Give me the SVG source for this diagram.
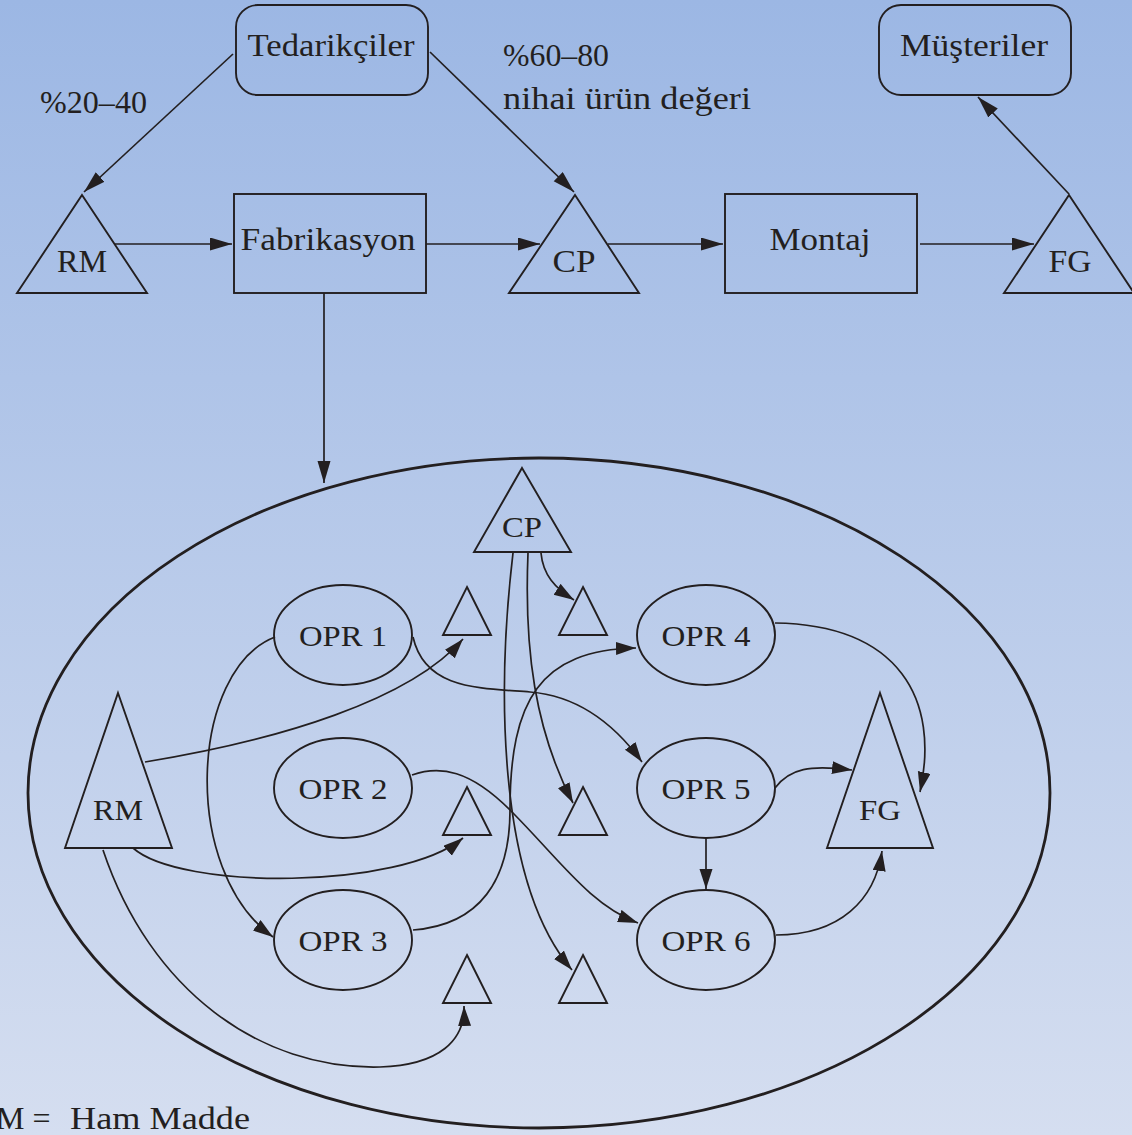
<svg xmlns="http://www.w3.org/2000/svg" width="1132" height="1135" viewBox="0 0 1132 1135">
  <defs>
    <linearGradient id="bg" x1="0" y1="0" x2="0" y2="1">
      <stop offset="0" stop-color="#9cb7e4"/>
      <stop offset="1" stop-color="#d5def0"/>
    </linearGradient>
    <marker id="arr" markerUnits="userSpaceOnUse" markerWidth="24" markerHeight="14" refX="22" refY="6.5" orient="auto">
      <path d="M0,0 L22,6.5 L0,13 Z" fill="#231f20"/>
    </marker>
    <marker id="arrS" markerUnits="userSpaceOnUse" markerWidth="22" markerHeight="14" refX="20" refY="6.5" orient="auto">
      <path d="M0,0 L20,6.5 L0,13 Z" fill="#231f20"/>
    </marker>
  </defs>
  <style>
    .shape { fill: none; stroke: #231f20; stroke-width: 1.9; }
    .line { fill: none; stroke: #231f20; stroke-width: 1.7; }
    .big { fill: none; stroke: #231f20; stroke-width: 2.8; }
    .t { font-family: "Liberation Serif", "DejaVu Serif", serif; font-size: 32px; fill: #231f20; text-anchor: middle; }
    .ts { font-family: "Liberation Serif", "DejaVu Serif", serif; font-size: 30px; fill: #231f20; text-anchor: middle; }
    .tl { font-family: "Liberation Serif", "DejaVu Serif", serif; font-size: 32px; fill: #231f20; }
  </style>

  <rect x="0" y="0" width="1132" height="1135" fill="url(#bg)"/>

  <!-- top-level flow -->
  <g id="tedarikciler">
    <rect class="shape" x="236" y="5" width="192" height="90" rx="22"/>
    <text class="t" x="331" y="56" textLength="167" lengthAdjust="spacingAndGlyphs">Tedarikçiler</text>
  </g>
  <g id="musteriler">
    <rect class="shape" x="879" y="5" width="192" height="90" rx="22"/>
    <text class="t" x="974" y="56" textLength="148" lengthAdjust="spacingAndGlyphs">Müşteriler</text>
  </g>
  <g id="rm-top">
    <polygon class="shape" points="82,195 147,293 17,293"/>
    <text class="t" x="82" y="272" textLength="50" lengthAdjust="spacingAndGlyphs">RM</text>
  </g>
  <g id="fabrikasyon">
    <rect class="shape" x="234" y="194" width="192" height="99"/>
    <text class="t" x="328" y="250" textLength="175" lengthAdjust="spacingAndGlyphs">Fabrikasyon</text>
  </g>
  <g id="cp-top">
    <polygon class="shape" points="575,195 639,293 509,293"/>
    <text class="t" x="574" y="272" textLength="43" lengthAdjust="spacingAndGlyphs">CP</text>
  </g>
  <g id="montaj">
    <rect class="shape" x="725" y="194" width="192" height="99"/>
    <text class="t" x="820" y="250" textLength="101" lengthAdjust="spacingAndGlyphs">Montaj</text>
  </g>
  <g id="fg-top">
    <polygon class="shape" points="1069,195 1134,293 1004,293"/>
    <text class="t" x="1070" y="272" textLength="43" lengthAdjust="spacingAndGlyphs">FG</text>
  </g>

  <g id="labels">
    <text class="tl" x="40" y="113" textLength="107" lengthAdjust="spacingAndGlyphs">%20–40</text>
    <text class="tl" x="503" y="66" textLength="106" lengthAdjust="spacingAndGlyphs">%60–80</text>
    <text class="tl" x="503" y="109" textLength="248" lengthAdjust="spacingAndGlyphs">nihai ürün değeri</text>
    <!-- legend line, running off the left edge of the sheet -->
    <text class="tl" x="-4" y="1129">M =</text>
    <text class="tl" x="70" y="1129" textLength="180" lengthAdjust="spacingAndGlyphs">Ham Madde</text>
  </g>

  <!-- fabrication detail -->
  <g id="fabrication-boundary">
    <ellipse class="big" cx="539" cy="793" rx="511" ry="335"/>
  </g>
  <g id="cp-in">
    <polygon class="shape" points="522,468 571,552 474,552"/>
    <text class="ts" x="522" y="537" textLength="40" lengthAdjust="spacingAndGlyphs">CP</text>
  </g>
  <g id="rm-in">
    <polygon class="shape" points="118,693 172,848 65,848"/>
    <text class="ts" x="118" y="820" textLength="50" lengthAdjust="spacingAndGlyphs">RM</text>
  </g>
  <g id="fg-in">
    <polygon class="shape" points="880,693 933,848 827,848"/>
    <text class="ts" x="880" y="820" textLength="42" lengthAdjust="spacingAndGlyphs">FG</text>
  </g>
  <g id="opr1">
    <ellipse class="shape" cx="343" cy="635" rx="69" ry="50"/>
    <text class="ts" x="343" y="646" textLength="88" lengthAdjust="spacingAndGlyphs">OPR 1</text>
  </g>
  <g id="opr2">
    <ellipse class="shape" cx="343" cy="788" rx="69" ry="50"/>
    <text class="ts" x="343" y="799" textLength="89" lengthAdjust="spacingAndGlyphs">OPR 2</text>
  </g>
  <g id="opr3">
    <ellipse class="shape" cx="343" cy="940" rx="69" ry="50"/>
    <text class="ts" x="343" y="951" textLength="89" lengthAdjust="spacingAndGlyphs">OPR 3</text>
  </g>
  <g id="opr4">
    <ellipse class="shape" cx="706" cy="635" rx="69" ry="50"/>
    <text class="ts" x="706" y="646" textLength="89" lengthAdjust="spacingAndGlyphs">OPR 4</text>
  </g>
  <g id="opr5">
    <ellipse class="shape" cx="706" cy="788" rx="69" ry="50"/>
    <text class="ts" x="706" y="799" textLength="89" lengthAdjust="spacingAndGlyphs">OPR 5</text>
  </g>
  <g id="opr6">
    <ellipse class="shape" cx="706" cy="940" rx="69" ry="50"/>
    <text class="ts" x="706" y="951" textLength="89" lengthAdjust="spacingAndGlyphs">OPR 6</text>
  </g>
  <g id="buffer-1"><polygon class="shape" points="467,587 491,635 443,635"/></g>
  <g id="buffer-2"><polygon class="shape" points="583,587 607,635 559,635"/></g>
  <g id="buffer-3"><polygon class="shape" points="467,787 491,835 443,835"/></g>
  <g id="buffer-4"><polygon class="shape" points="583,787 607,835 559,835"/></g>
  <g id="buffer-5"><polygon class="shape" points="467,955 491,1003 443,1003"/></g>
  <g id="buffer-6"><polygon class="shape" points="583,955 607,1003 559,1003"/></g>

  <g id="connectors">
    <!-- top row -->
    <line class="line" x1="233" y1="54" x2="84" y2="192" marker-end="url(#arr)"/>
    <line class="line" x1="430" y1="52" x2="574" y2="192" marker-end="url(#arr)"/>
    <line class="line" x1="115" y1="244" x2="232" y2="244" marker-end="url(#arr)"/>
    <line class="line" x1="426" y1="244" x2="540" y2="244" marker-end="url(#arr)"/>
    <line class="line" x1="608" y1="244" x2="723" y2="244" marker-end="url(#arr)"/>
    <line class="line" x1="920" y1="244" x2="1034" y2="244" marker-end="url(#arr)"/>
    <line class="line" x1="1069" y1="194" x2="978" y2="97" marker-end="url(#arr)"/>
    <line class="line" x1="324" y1="293" x2="324" y2="483" marker-end="url(#arr)"/>

    <!-- inside fabrication -->
    <path class="line" d="M275,637 C190,670 180,870 273,937" marker-end="url(#arrS)"/>
    <path class="line" d="M145,762 C280,740 410,700 463,639" marker-end="url(#arrS)"/>
    <path class="line" d="M133,848 C180,890 400,890 463,838" marker-end="url(#arrS)"/>
    <path class="line" d="M103,850 C150,990 260,1070 380,1067 C440,1065 465,1040 464,1006" marker-end="url(#arrS)"/>
    <path class="line" d="M413,637 C425,690 480,688 530,692 S615,725 642,762" marker-end="url(#arrS)"/>
    <path class="line" d="M412,775 C440,765 470,770 510,810 C560,860 590,905 638,923" marker-end="url(#arrS)"/>
    <path class="line" d="M413,930 C480,925 510,880 510,810 C510,700 540,650 636,648" marker-end="url(#arrS)"/>
    <path class="line" d="M541,553 C543,575 555,588 574,600" marker-end="url(#arrS)"/>
    <path class="line" d="M528,553 C524,650 535,730 573,803" marker-end="url(#arrS)"/>
    <path class="line" d="M513,553 C498,680 495,880 572,970" marker-end="url(#arrS)"/>
    <path class="line" d="M775,623 C900,625 940,700 920,792" marker-end="url(#arrS)"/>
    <path class="line" d="M775,788 C790,768 810,765 852,770" marker-end="url(#arrS)"/>
    <line class="line" x1="706" y1="838" x2="706" y2="889" marker-end="url(#arrS)"/>
    <path class="line" d="M776,935 C840,935 875,900 882,851" marker-end="url(#arrS)"/>
  </g>
</svg>
